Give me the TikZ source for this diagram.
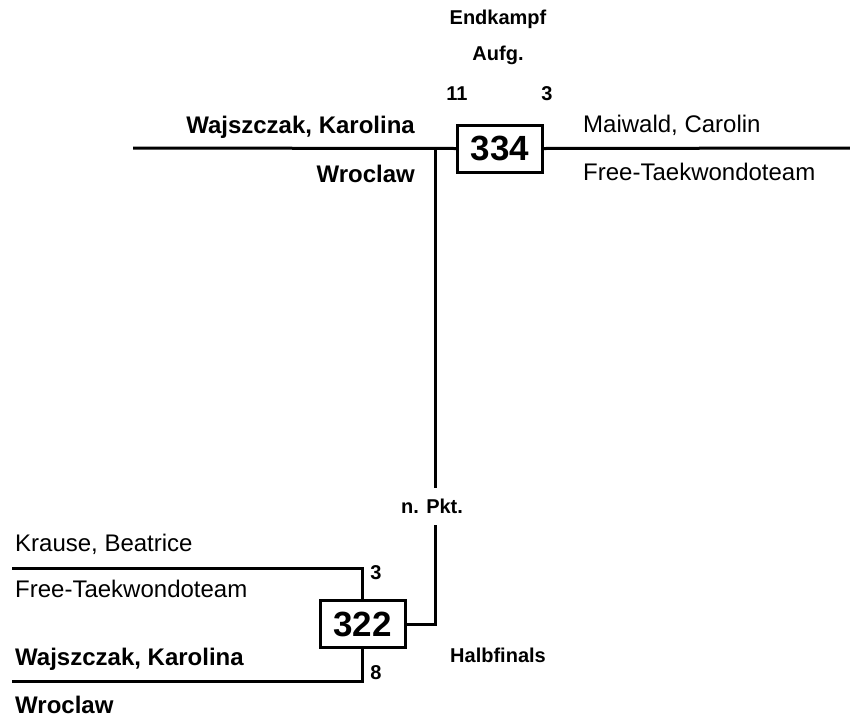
\documentclass[tikz,border=0pt]{standalone}
\usepackage{fontspec}
\setmainfont{Liberation Sans}
\usepackage{tikz}

\begin{document}
\begin{tikzpicture}[
  x=1pt, y=-1pt,
  line/.style={line width=3pt},
  matchbox/.style={draw, line width=3pt, inner sep=0pt, minimum width=85pt, minimum height=47pt, font=\bfseries\fontsize{35}{35}\selectfont},
  entry/.style={inner sep=0pt, font=\fontsize{24}{28}\selectfont},
  entrybold/.style={inner sep=0pt, font=\bfseries\fontsize{24}{28}\selectfont},
  tag/.style={inner sep=0pt, font=\bfseries\fontsize{20}{24}\selectfont}
]
\useasboundingbox (0,0) rectangle (850,723);

% matches
\node[matchbox] (m334) at (500,148.5) {334};
\node[matchbox] (m322) at (362.5,624) {322};

% final
\coordinate (l334) at (133,148);
\coordinate (r334) at (850,148);
\coordinate (j334) at (435,148);
\draw[line] (l334) -- (m334.west);
\draw[line] (m334.east) -- (r334);
\draw[line] (j334) |- (m322.east);
\node[tag, anchor=base] (final) at (498,24) {Endkampf};
\node[tag, anchor=base] (res334) at (498,60) {Aufg.};
\node[tag, anchor=base] (s334a) at (457,100) {11};
\node[tag, anchor=base] (s334b) at (547,100) {3};
\node[entrybold, anchor=base east] (p334a) at (415,133) {Wajszczak, Karolina};
\node[entrybold, anchor=base east] (c334a) at (415,182) {Wroclaw};
\node[entry, anchor=base west] (p334b) at (583,132) {Maiwald, Carolin};
\node[entry, anchor=base west] (c334b) at (583,180) {Free-Taekwondoteam};

% semifinal
\coordinate (a322) at (12,568);
\coordinate (b322) at (12,681);
\draw[line] (a322) -| (m322.north);
\draw[line] (b322) -| (m322.south);
\node[tag, fill=white, inner xsep=2pt, minimum height=37pt] (res322) at (432,506.5) {n. Pkt.};
\node[tag, anchor=base] (semi) at (498,662) {Halbfinals};
\node[tag, anchor=base] (s322a) at (376,579) {3};
\node[tag, anchor=base] (s322b) at (376,679) {8};
\node[entry, anchor=base west] (p322a) at (15,551) {Krause, Beatrice};
\node[entry, anchor=base west] (c322a) at (15,597) {Free-Taekwondoteam};
\node[entrybold, anchor=base west] (p322b) at (15,665) {Wajszczak, Karolina};
\node[entrybold, anchor=base west] (c322b) at (15,713) {Wroclaw};
\end{tikzpicture}
\end{document}
